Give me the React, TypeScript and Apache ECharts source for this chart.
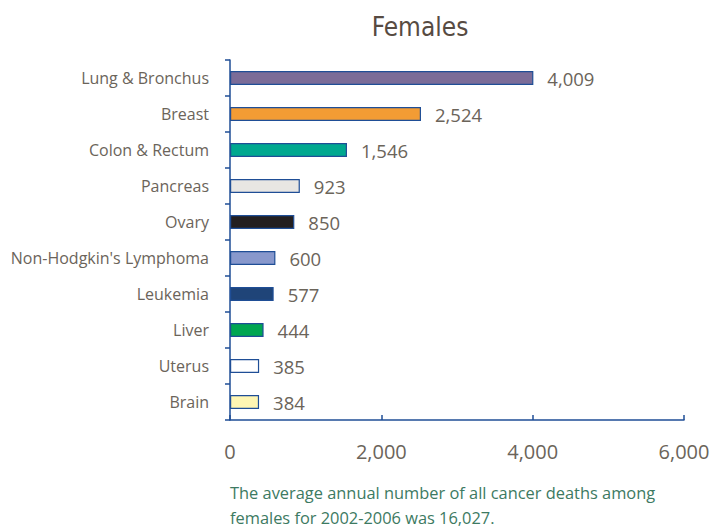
import React, { useEffect, useRef } from "react";
import * as echarts from "echarts";

const categories = [
  "Lung & Bronchus",
  "Breast",
  "Colon & Rectum",
  "Pancreas",
  "Ovary",
  "Non-Hodgkin's Lymphoma",
  "Leukemia",
  "Liver",
  "Uterus",
  "Brain",
];
const values = [4009, 2524, 1546, 923, 850, 600, 577, 444, 385, 384];
const barColors = [
  "#7b6c98",
  "#f39c34",
  "#00a88f",
  "#e8e6e3",
  "#231f20",
  "#8898cc",
  "#1f4478",
  "#00a651",
  "#ffffff",
  "#fff6b3",
];
const xTicks = [0, 2000, 4000, 6000];
const titleText = "Females";
const footnote = [
  "The average annual number of all cancer deaths among",
  "females for 2002-2006 was 16,027.",
];

const fmt = (v: number) => v.toLocaleString("en-US");

export default function App() {
  const ref = useRef<HTMLDivElement>(null);
  useEffect(() => {
    if (!ref.current) return;
    const chart = echarts.init(ref.current, null, { renderer: "svg" });
    const axisColor = "#1f4e96";
    const textColor = "#6b645a";
    chart.setOption({
      animation: false,
      backgroundColor: "#ffffff",
      title: {
        text: titleText,
        left: 415,
        textAlign: "center",
        top: 9,
        textStyle: {
          fontFamily: "DejaVu Sans Condensed",
          fontWeight: "normal",
          fontSize: 26,
          color: "#574b42",
        },
      },
      graphic: [
        {
          type: "text",
          left: 230,
          top: 480,
          style: {
            text: footnote.join("\n"),
            font: '16.4px "Open Sans"',
            fill: "#3d7a62",
            lineHeight: 25,
          },
        },
      ],
      grid: { left: 230, right: 34, top: 60, bottom: 111, containLabel: false },
      xAxis: {
        type: "value",
        min: xTicks[0],
        max: xTicks[xTicks.length - 1],
        interval: 2000,
        axisLine: { show: true, lineStyle: { color: axisColor, width: 1.5 } },
        axisTick: { show: true, inside: true, length: 5, lineStyle: { color: axisColor, width: 1.5 } },
        splitLine: { show: false },
        axisLabel: {
          margin: 21,
          fontFamily: "Open Sans",
          fontSize: 20,
          color: textColor,
          formatter: (v: number) => fmt(v),
        },
      },
      yAxis: {
        type: "category",
        data: categories,
        inverse: true,
        axisLine: { show: true, lineStyle: { color: axisColor, width: 1.5 } },
        axisTick: { show: true, length: 5, lineStyle: { color: axisColor, width: 1.5 } },
        axisLabel: {
          margin: 21,
          fontFamily: "Open Sans",
          fontSize: 16,
          color: textColor,
        },
      },
      series: [
        {
          type: "bar",
          data: values.map((v, i) => ({
            value: v,
            itemStyle: { color: barColors[i] },
          })),
          barWidth: 14,
          itemStyle: { borderColor: axisColor, borderWidth: 1.2 },
          label: {
            show: true,
            position: "right",
            distance: 14,
            fontFamily: "Open Sans",
            fontSize: 18.5,
            color: textColor,
            formatter: (p: any) => fmt(p.value),
          },
        },
      ],
    });
    return () => chart.dispose();
  }, []);
  return <div ref={ref} style={{ width: 718, height: 531, position: "absolute", left: 0, top: 0 }} />;
}
